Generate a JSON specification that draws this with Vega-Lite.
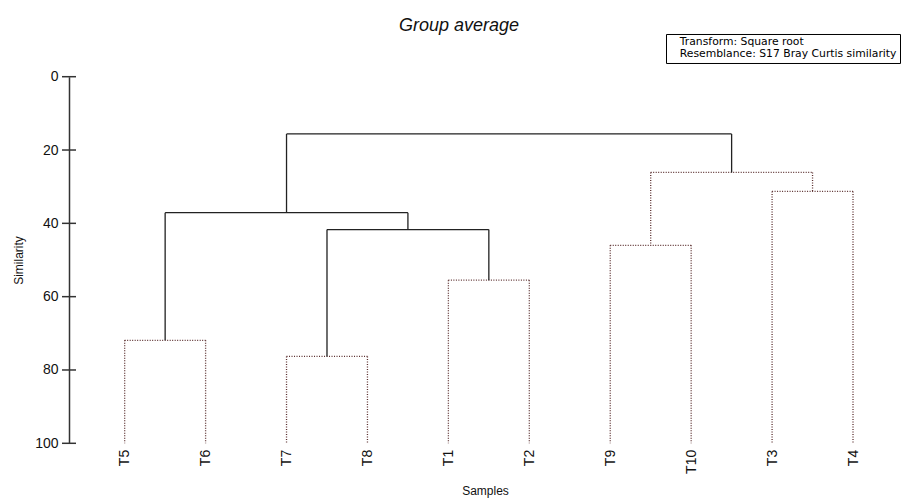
{
  "$schema": "https://vega.github.io/schema/vega-lite/v6.json",
  "width": 832,
  "height": 366.6,
  "autosize": {"type": "none"},
  "padding": {"left": 69, "top": 76.7, "right": 0, "bottom": 57.7},
  "background": "white",
  "title": {
    "text": "Group average",
    "font": "Liberation Sans",
    "fontStyle": "italic",
    "fontWeight": "normal",
    "fontSize": 18,
    "color": "#111",
    "anchor": "middle",
    "frame": "group",
    "dx": -26,
    "offset": -2
  },
  "config": {
    "view": {"stroke": null},
    "font": "Liberation Sans"
  },
  "datasets": {
    "nodes": [
      {"node": "T5+T6", "xl": 0, "xr": 1, "h": 71.9, "hl": 100, "hr": 100, "style": "dotted"},
      {"node": "T7+T8", "xl": 2, "xr": 3, "h": 76.3, "hl": 100, "hr": 100, "style": "dotted"},
      {"node": "T1+T2", "xl": 4, "xr": 5, "h": 55.5, "hl": 100, "hr": 100, "style": "dotted"},
      {"node": "T9+T10", "xl": 6, "xr": 7, "h": 46.0, "hl": 100, "hr": 100, "style": "dotted"},
      {"node": "T3+T4", "xl": 8, "xr": 9, "h": 31.3, "hl": 100, "hr": 100, "style": "dotted"},
      {"node": "(T7,T8)+(T1,T2)", "xl": 2.5, "xr": 4.5, "h": 41.7, "hl": 76.3, "hr": 55.5, "style": "solid"},
      {"node": "(T5,T6)+(T7,T8,T1,T2)", "xl": 0.5, "xr": 3.5, "h": 37.1, "hl": 71.9, "hr": 41.7, "style": "solid"},
      {"node": "(T9,T10)+(T3,T4)", "xl": 6.5, "xr": 8.5, "h": 26.1, "hl": 46.0, "hr": 31.3, "style": "dotted"},
      {"node": "root", "xl": 2.0, "xr": 7.5, "h": 15.6, "hl": 37.1, "hr": 26.1, "style": "solid"}
    ],
    "yticks": [
      {"v": 0}, {"v": 20}, {"v": 40}, {"v": 60}, {"v": 80}, {"v": 100}
    ]
  },
  "layer": [
    {
      "data": {"name": "nodes"},
      "mark": {"type": "rule", "strokeWidth": 1.3},
      "encoding": {
        "x": {
          "field": "xl", "type": "quantitative",
          "scale": {"domain": [-0.688, 9.593], "nice": false, "zero": false},
          "axis": {
            "values": [0, 1, 2, 3, 4, 5, 6, 7, 8, 9],
            "labelExpr": "['T5','T6','T7','T8','T1','T2','T9','T10','T3','T4'][datum.value]",
            "labelAngle": 270,
            "labelFontSize": 14,
            "labelColor": "#111",
            "labelPadding": 6,
            "domain": false,
            "ticks": false,
            "grid": false,
            "title": "Samples",
            "titleFontSize": 12,
            "titleFontWeight": "normal",
            "titleColor": "#111",
            "titlePadding": 12
          }
        },
        "x2": {"field": "xr"},
        "y": {
          "field": "h", "type": "quantitative",
          "scale": {"domain": [0, 100], "reverse": true, "nice": false, "zero": false},
          "axis": {
            "values": [0, 20, 40, 60, 80, 100],
            "ticks": false,
            "tickSize": 0,
            "domainColor": "#333",
            "domainWidth": 1.5,
            "labelFontSize": 14,
            "labelColor": "#111",
            "labelPadding": 11,
            "grid": false,
            "title": "Similarity",
            "titleFontSize": 12,
            "titleFontWeight": "normal",
            "titleColor": "#111",
            "titlePadding": 9
          }
        },
        "color": {"field": "style", "type": "nominal", "scale": {"domain": ["solid", "dotted"], "range": ["#222222", "#5a2e2e"]}, "legend": null},
        "strokeDash": {"field": "style", "type": "nominal", "scale": {"domain": ["solid", "dotted"], "range": [[10, 0], [1, 1.5]]}, "legend": null}
      }
    },
    {
      "data": {"name": "nodes"},
      "mark": {"type": "rule", "strokeWidth": 1.3},
      "encoding": {
        "x": {"field": "xl", "type": "quantitative"},
        "y": {"field": "h", "type": "quantitative"},
        "y2": {"field": "hl"},
        "color": {"field": "style", "type": "nominal", "legend": null},
        "strokeDash": {"field": "style", "type": "nominal", "legend": null}
      }
    },
    {
      "data": {"name": "nodes"},
      "mark": {"type": "rule", "strokeWidth": 1.3},
      "encoding": {
        "x": {"field": "xr", "type": "quantitative"},
        "y": {"field": "h", "type": "quantitative"},
        "y2": {"field": "hr"},
        "color": {"field": "style", "type": "nominal", "legend": null},
        "strokeDash": {"field": "style", "type": "nominal", "legend": null}
      }
    },
    {
      "data": {"name": "yticks"},
      "mark": {"type": "tick", "orient": "horizontal", "size": 14, "thickness": 1.5, "color": "#333", "opacity": 1},
      "encoding": {
        "x": {"datum": -0.688, "type": "quantitative"},
        "y": {"field": "v", "type": "quantitative"}
      }
    },
    {
      "data": {"values": [
        {"note": "Transform: Square root"},
        {"note": "Resemblance: S17 Bray Curtis similarity"}
      ]},
      "mark": {"type": "point", "opacity": 0},
      "encoding": {
        "shape": {
          "field": "note", "type": "nominal",
          "scale": {"domain": ["Transform: Square root", "Resemblance: S17 Bray Curtis similarity"]},
          "legend": {
            "orient": "none",
            "legendX": 597,
            "legendY": -42.7,
            "title": null,
            "symbolSize": 0,
            "symbolOpacity": 0,
            "symbolStrokeWidth": 0,
            "labelOffset": 0,
            "labelLimit": 400,
            "labelFont": "DejaVu Sans",
            "labelFontSize": 10.8,
            "labelColor": "#000",
            "rowPadding": 0,
            "padding": 3,
            "strokeColor": "#000",
            "fillColor": "white"
          }
        }
      }
    }
  ]
}
